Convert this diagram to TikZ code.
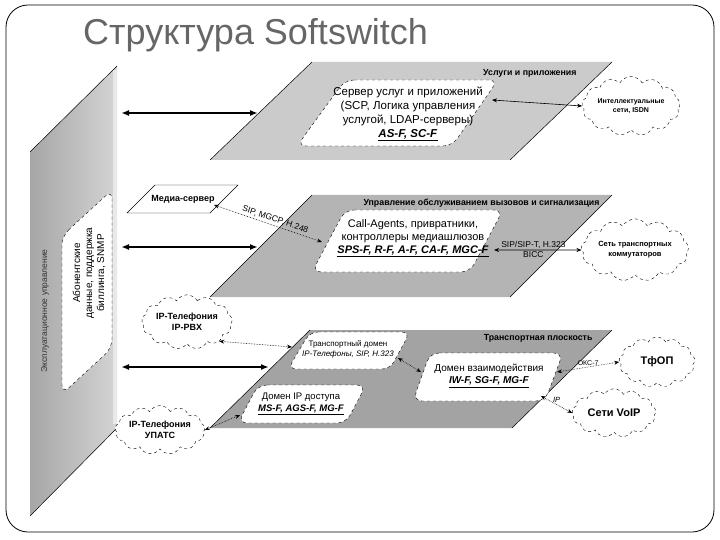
\documentclass[tikz,border=0pt]{standalone}
\usepackage{fontspec}
\setmainfont{Liberation Sans}
\usetikzlibrary{shapes.symbols,arrows.meta}
\definecolor{pone}{HTML}{CBCBCB}
\definecolor{ptwo}{HTML}{B4B4B4}
\definecolor{pthree}{HTML}{A3A3A3}
\definecolor{bandL}{HTML}{A6A6A6}
\definecolor{bandR}{HTML}{D4D4D4}
\definecolor{titlegray}{HTML}{666666}
\newcommand{\fs}[2]{\fontsize{#1}{#2}\selectfont}
\newcommand{\ubi}[1]{\underline{\textbf{\textit{#1}}}}
\begin{document}
\begin{tikzpicture}[x=1pt,y=-1pt,
  planeedge/.style={line width=0.5pt,draw=black},
  wbox/.style={fill=white,draw=black,dashed,line width=0.4pt,rounded corners=9pt},
  msbox/.style={fill=white,draw=black,line width=0.4pt},
  cloudn/.style={cloud,cloud puffs=13,cloud puff arc=120,draw=black,dashed,
     line width=0.4pt,fill=white,inner sep=0pt,align=center},
  bigarrow/.style={line width=1.7pt,{Latex[length=8pt,width=6pt]}-{Latex[length=8pt,width=6pt]}},
  thinarrow/.style={line width=0.6pt,{Stealth[length=5pt,width=4pt]}-{Stealth[length=5pt,width=4pt]}},
  dotarrow/.style={densely dotted,line width=0.6pt,{Stealth[length=5pt,width=4pt]}-{Stealth[length=5pt,width=4pt]}},
  plabel/.style={font=\bfseries\fs{8.8}{10}},
  lbl/.style={font=\fs{8.5}{10},inner sep=1pt}
]
\useasboundingbox (0,0) rectangle (720,540);
% frame
\draw[line width=0.8pt,rounded corners=22pt] (6,5) rectangle (714,532);
% title
\node[font=\fs{36}{40},text=titlegray,anchor=base west,inner sep=0pt] (title) at (83,45) {Структура Softswitch};

% left band
\shade[left color=bandL,right color=bandR] (30,152) -- (117,66) -- (117,428) -- (30,516) -- cycle;
\draw[line width=0.5pt] (30,152) -- (117,66);
\draw[line width=0.5pt] (117,428) -- (30,516);
\fill[white,opacity=0.5] (113,70) rectangle (117,424);
\node[font=\fs{8.5}{10},text=black!80,rotate=90] (bandlabel) at (45,311) {Эксплуатационное управление};
\path[wbox] (62,236) -- (112,190) -- (112,348) -- (62,394) -- cycle;
\node[font=\fs{10}{12},rotate=90,align=center] (subs) at (89,273) {Абонентские\\данные, поддержка\\биллинга, SNMP};

% plane 1
\fill[pone] (312,62) -- (612,62) -- (510,160) -- (210,160) -- cycle;
\draw[planeedge] (312,62) -- (210,160);
\draw[planeedge] (612,62) -- (510,160);
\node[plabel,anchor=east] (p1lab) at (580,73) {Услуги и приложения};
\path[wbox] (345,80) -- (498,80) -- (452,146) -- (297,146) -- cycle;
\node[font=\fs{11.5}{14},align=center] (srv) at (408,114) {Сервер услуг и приложений\\(SCP, Логика управления\\услугой, LDAP-серверы)\\\ubi{AS-F, SC-F}};
\coordinate (srvR) at (492,100);
\coordinate (p1L) at (258,113);
\node[cloudn,aspect=2,minimum width=66pt,minimum height=34pt,font=\bfseries\fs{7}{9}] (isdn) at (631,106) {Интеллектуальные\\сети, ISDN};

% plane 2
\fill[ptwo] (312,195) -- (612,195) -- (510,297) -- (210,297) -- cycle;
\draw[planeedge] (312,195) -- (210,297);
\draw[planeedge] (612,195) -- (510,297);
\node[plabel,anchor=east] (p2lab) at (603,203) {Управление обслуживанием вызовов и сигнализация};
\path[wbox] (345,210) -- (503,210) -- (470,272) -- (312,272) -- cycle;
\node[font=\fs{11}{13},align=center] (ca) at (413,238) {Call-Agents, привратники,\\контроллеры медиашлюзов\\\ubi{SPS-F, R-F, A-F, CA-F, MGC-F}};
\coordinate (caR) at (494,250);
\coordinate (caL) at (322,242);
\coordinate (p2L) at (258,247);
\node[cloudn,aspect=2.1,minimum width=76pt,minimum height=36pt,font=\bfseries\fs{7.5}{10}] (tsw) at (635,250) {Сеть транспортных\\коммутаторов};

% media server
\path[msbox] (155,185) -- (238,185) -- (210,213) -- (127,213) -- cycle;
\node[font=\bfseries\fs{9}{10}] (ms) at (183,199) {Медиа-сервер};
\coordinate (msR) at (214,205);

% plane 3
\fill[pthree] (310,330) -- (612,330) -- (512,428) -- (210,428) -- cycle;
\draw[planeedge] (310,330) -- (210,428);
\draw[planeedge] (612,330) -- (512,428);
\node[plabel,anchor=east] (p3lab) at (596,338) {Транспортная плоскость};
\path[wbox,rounded corners=8pt] (310,332) -- (410,332) -- (390,369) -- (288,369) -- cycle;
\node[font=\fs{8}{10},align=center] (td) at (348,349) {Транспортный домен\\\textit{IP-Телефоны, SIP, H.323}};
\path[wbox] (430,353) -- (563,353) -- (545,401) -- (413,401) -- cycle;
\node[font=\fs{10}{12},align=center] (iw) at (489,376) {Домен взаимодействия\\\ubi{IW-F, SG-F, MG-F}};
\path[wbox] (258,385) -- (366,385) -- (346,423) -- (238,423) -- cycle;
\node[font=\fs{9.5}{11.5},align=center] (ipa) at (301,404) {Домен IP доступа\\\ubi{MS-F, AGS-F, MG-F}};
\coordinate (tdR) at (398,358);
\coordinate (tdL) at (292,347);
\coordinate (iwTL) at (421,372);
\coordinate (iwR) at (557,372);
\coordinate (iwBR) at (541,396);
\coordinate (ipaL) at (240,415);
\coordinate (p3L) at (269,367);
\coordinate (bandR1) at (121,113);
\coordinate (bandR2) at (121,247);
\coordinate (bandR3) at (121,367);

\node[cloudn,aspect=2,minimum width=72pt,minimum height=36pt,font=\bfseries\fs{9}{11}] (pbx) at (187,322) {IP-Телефония\\IP-PBX};
\node[cloudn,aspect=2.3,minimum width=76pt,minimum height=32pt,font=\bfseries\fs{9}{11}] (upats) at (160,430) {IP-Телефония\\УПАТС};
\node[cloudn,aspect=1.5,minimum width=76pt,minimum height=50pt,font=\bfseries\fs{11}{13}] (pstn) at (657,362) {ТфОП};
\node[cloudn,aspect=1.9,minimum width=84pt,minimum height=44pt,font=\bfseries\fs{11}{13}] (voip) at (614,413) {Сети VoIP};

% connectors
\draw[bigarrow] (bandR1) -- (p1L);
\draw[bigarrow] (bandR2) -- (p2L);
\draw[bigarrow] (bandR3) -- (p3L);
\draw[thinarrow] (srvR) -- (isdn.west);
\draw[thinarrow] (caR) -- node[lbl,above,pos=0.45]{SIP/SIP-T, H.323} node[lbl,below,pos=0.45]{BICC} (tsw.west);
\draw[dotarrow] (msR) -- node[lbl,sloped,above=1pt,pos=0.55]{SIP, MGCP, H.248} (caL);
\draw[dotarrow] (pbx.south east) -- (tdL);
\draw[dotarrow] (tdR) -- (iwTL);
\draw[dotarrow] (upats.east) -- (ipaL);
\draw[dotarrow] (iwR) -- node[font=\fs{7}{8},above,inner sep=1.5pt]{ОКС-7} (pstn.west);
\draw[dotarrow] (iwBR) -- node[font=\itshape\fs{7.5}{8},above,inner sep=1.5pt]{IP} (voip.west);
\end{tikzpicture}
\end{document}
